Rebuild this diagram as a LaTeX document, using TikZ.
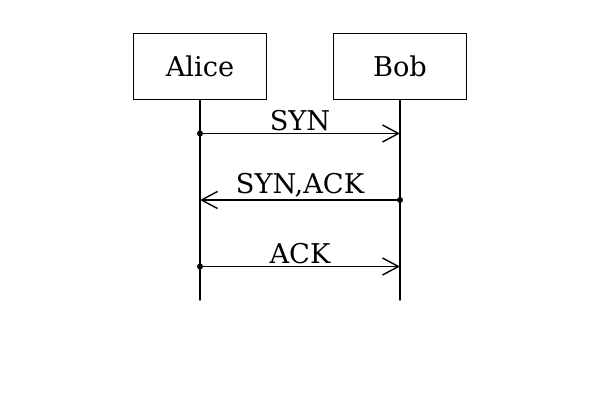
\documentclass[tikz,border=0pt]{standalone}
\usepackage{fontspec}
\setmainfont{DejaVu Serif}
\usetikzlibrary{arrows.meta}
\tikzset{actor/.style={draw, minimum width=2.66cm, minimum height=1.33cm, inner sep=0pt},
	msg/.style={-{Straight Barb[length=0.32cm, width=0.34cm]}}}
\begin{document}
\begin{tikzpicture}[line join=round, line cap=round, line width=0.8pt, font=\fontsize{15.5}{18}\selectfont]
	\useasboundingbox (0,0) rectangle (12,8);
	\node[actor] (alice) at (4,6.67) {Alice};
	\node[actor] (bob) at (8,6.67) {Bob};
	\coordinate (aend) at (4,2);
	\coordinate (bend) at (8,2);
	\draw (alice.south)--(aend) (bob.south)--(bend);
	% messages
	\coordinate (a1) at (4,5.33); \coordinate (b1) at (8,5.33);
	\coordinate (a2) at (4,4); \coordinate (b2) at (8,4);
	\coordinate (a3) at (4,2.67); \coordinate (b3) at (8,2.67);
	\draw[msg] (a1)--(b1) node[midway, above, inner sep=1pt]{SYN};
	\draw[msg] (b2)--(a2) node[midway, above, inner sep=1pt]{SYN,ACK};
	\draw[msg] (a3)--(b3) node[midway, above, inner sep=1pt]{ACK};
	\fill (a1) circle (0.06) (b2) circle (0.06) (a3) circle (0.06);
\end{tikzpicture}
\end{document}
